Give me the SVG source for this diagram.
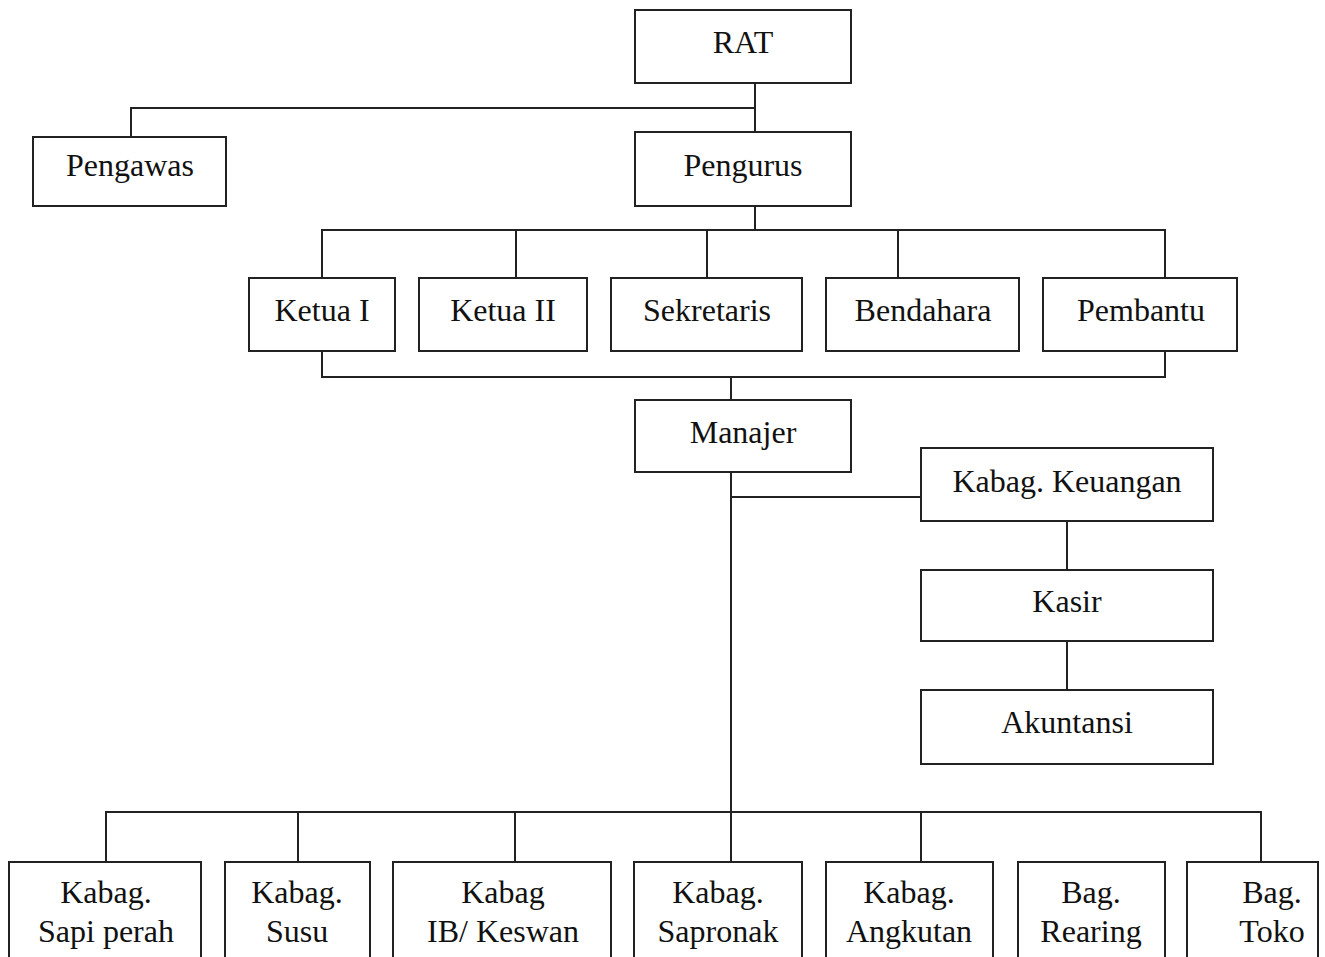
<svg xmlns="http://www.w3.org/2000/svg" width="1325" height="957" viewBox="0 0 1325 957">
<style>
.box{fill:#fff;stroke:#222;stroke-width:2}
.ln{fill:none;stroke:#222;stroke-width:2}
text{font-family:"Liberation Serif","Times New Roman",serif;font-size:32px;fill:#111;text-anchor:middle}
</style>
<rect width="1325" height="957" fill="#fff"/>
<g id="connectors">
<path class="ln" d="M755 83V132M131 137V108H755"/>
<path class="ln" d="M755 206V230M322 278V230H1165V278M516 230V278M707 230V278M898 230V278"/>
<path class="ln" d="M322 351V377H1165V351M731 377V400"/>
<path class="ln" d="M731 472V862M731 497H921M1067 521V570M1067 641V690"/>
<path class="ln" d="M106 862V812H1261V862M298 812V862M515 812V862M921 812V862"/>
</g>
<g id="rat"><rect class="box" x="635" y="10" width="216" height="73"/><text x="743" y="53">RAT</text></g>
<g id="pengawas"><rect class="box" x="33" y="137" width="193" height="69"/><text x="130" y="176">Pengawas</text></g>
<g id="pengurus"><rect class="box" x="635" y="132" width="216" height="74"/><text x="743" y="176">Pengurus</text></g>
<g id="ketua1"><rect class="box" x="249" y="278" width="146" height="73"/><text x="322" y="321">Ketua I</text></g>
<g id="ketua2"><rect class="box" x="419" y="278" width="168" height="73"/><text x="503" y="321">Ketua II</text></g>
<g id="sekretaris"><rect class="box" x="611" y="278" width="191" height="73"/><text x="707" y="321">Sekretaris</text></g>
<g id="bendahara"><rect class="box" x="826" y="278" width="193" height="73"/><text x="923" y="321">Bendahara</text></g>
<g id="pembantu"><rect class="box" x="1043" y="278" width="194" height="73"/><text x="1141" y="321">Pembantu</text></g>
<g id="manajer"><rect class="box" x="635" y="400" width="216" height="72"/><text x="743" y="443">Manajer</text></g>
<g id="keuangan"><rect class="box" x="921" y="448" width="292" height="73"/><text x="1067" y="492">Kabag. Keuangan</text></g>
<g id="kasir"><rect class="box" x="921" y="570" width="292" height="71"/><text x="1067" y="612">Kasir</text></g>
<g id="akuntansi"><rect class="box" x="921" y="690" width="292" height="74"/><text x="1067" y="733">Akuntansi</text></g>
<g id="sapi"><rect class="box" x="9" y="862" width="192" height="110"/><text x="106" y="903">Kabag.</text><text x="106" y="942">Sapi perah</text></g>
<g id="susu"><rect class="box" x="225" y="862" width="145" height="110"/><text x="297" y="903">Kabag.</text><text x="297" y="942">Susu</text></g>
<g id="ib"><rect class="box" x="393" y="862" width="218" height="110"/><text x="503" y="903">Kabag</text><text x="503" y="942">IB/ Keswan</text></g>
<g id="sapronak"><rect class="box" x="634" y="862" width="168" height="110"/><text x="718" y="903">Kabag.</text><text x="718" y="942">Sapronak</text></g>
<g id="angkutan"><rect class="box" x="826" y="862" width="167" height="110"/><text x="909" y="903">Kabag.</text><text x="909" y="942">Angkutan</text></g>
<g id="rearing"><rect class="box" x="1018" y="862" width="147" height="110"/><text x="1091" y="903">Bag.</text><text x="1091" y="942">Rearing</text></g>
<g id="toko"><rect class="box" x="1187" y="862" width="131" height="110"/><text x="1272" y="903">Bag.</text><text x="1272" y="942">Toko</text></g>
</svg>
